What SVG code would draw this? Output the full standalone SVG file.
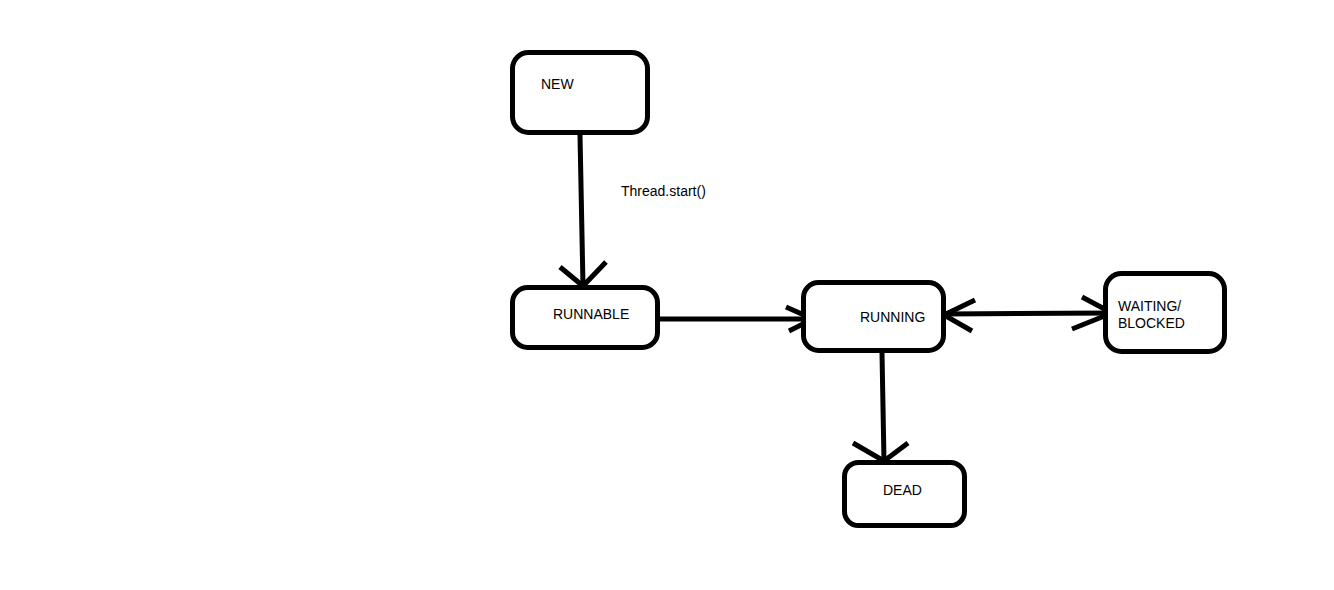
<svg xmlns="http://www.w3.org/2000/svg" width="1334" height="590" viewBox="0 0 1334 590">
<style>
.box{fill:#fff;stroke:#000;stroke-width:5}
.ln{fill:none;stroke:#000;stroke-width:5;stroke-linejoin:miter}
.t{font-family:"Liberation Sans",Arial,sans-serif;font-size:14px;fill:#000}
</style>
<rect width="1334" height="590" fill="#fff"/>
<g id="connectors">
<path class="ln" d="M580,135 L583,286"/>
<path class="ln" d="M560,267 L583,286 L606,262"/>
<path class="ln" d="M660,319 L813,319"/>
<path class="ln" d="M786,307 L813,319 L789,331"/>
<path class="ln" d="M944,314 L1112,313"/>
<path class="ln" d="M975,300 L944,315 L972,331"/>
<path class="ln" d="M1082,297 L1112,313 L1072,329"/>
<path class="ln" d="M882,353 L884,461"/>
<path class="ln" d="M853,443 L884,461 L908,443"/>
</g>
<g id="node-new">
<rect class="box" x="512.5" y="52.5" width="135" height="80" rx="16"/>
<text class="t" x="541" y="89">NEW</text>
</g>
<text class="t" x="621" y="196">Thread.start()</text>
<g id="node-runnable">
<rect class="box" x="512.5" y="287.5" width="145" height="60" rx="15"/>
<text class="t" x="553" y="319">RUNNABLE</text>
</g>
<g id="node-running">
<rect class="box" x="803.5" y="282.5" width="140" height="68" rx="15"/>
<text class="t" x="860" y="322">RUNNING</text>
</g>
<g id="node-waiting">
<rect class="box" x="1105.5" y="273.5" width="119" height="78" rx="16"/>
<text class="t" x="1118" y="311">WAITING/</text>
<text class="t" x="1118" y="328">BLOCKED</text>
</g>
<g id="node-dead">
<rect class="box" x="844.5" y="462.5" width="120" height="63" rx="14"/>
<text class="t" x="883" y="495">DEAD</text>
</g>
</svg>
